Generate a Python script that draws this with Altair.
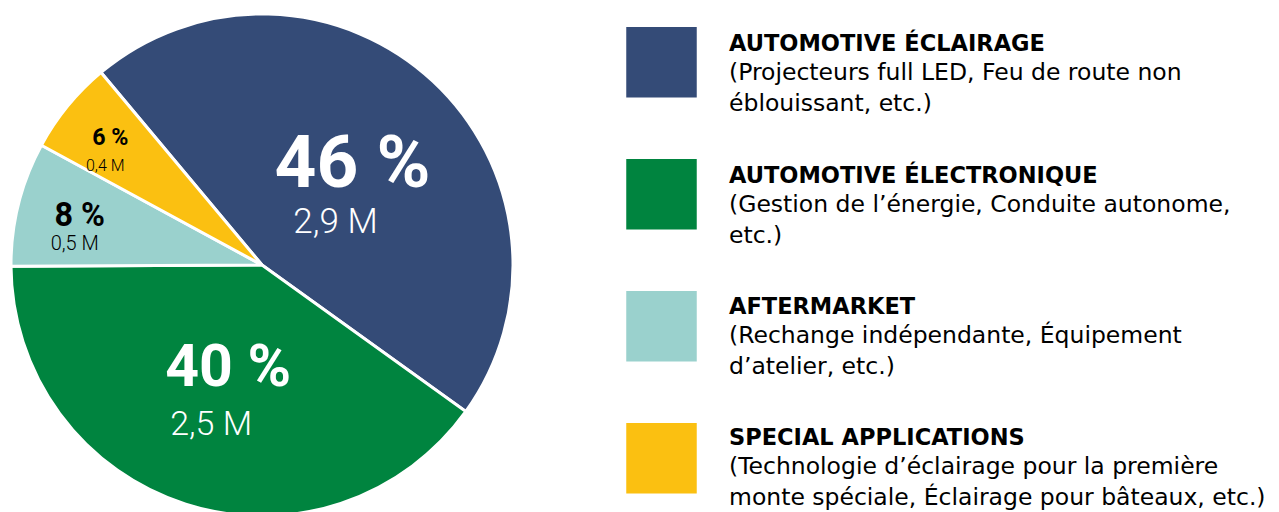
import altair as alt
import pandas as pd

# ---- data ----
categories = ["AUTOMOTIVE ÉCLAIRAGE", "AUTOMOTIVE ÉLECTRONIQUE", "AFTERMARKET", "SPECIAL APPLICATIONS"]
shares = [46, 40, 8, 6]
millions = [2.9, 2.5, 0.5, 0.4]
descriptions = [
    ["(Projecteurs full LED, Feu de route non", "éblouissant, etc.)"],
    ["(Gestion de l’énergie, Conduite autonome,", "etc.)"],
    ["(Rechange indépendante, Équipement", "d’atelier, etc.)"],
    ["(Technologie d’éclairage pour la première", "monte spéciale, Éclairage pour bâteaux, etc.)"],
]
colors = ["#344b77", "#00843f", "#9ad1cd", "#fbc011"]

df = pd.DataFrame({
    "cat": categories,
    "share": shares,
    "m": millions,
    "desc": ["\n".join(d) for d in descriptions],
    "idx": list(range(len(categories))),
})

# ---- styling ----
CX, CY = 254, 257
share_steps = [6, 8, 40, 46]
theta = alt.Theta("share:Q", stack=True,
                  scale=alt.Scale(domain=[0, 100], range=[5.5868, 11.8700]))
order = alt.Order("idx:Q")
color = alt.Color("cat:N", scale=alt.Scale(domain=categories, range=colors), legend=None)
radius = alt.Radius("share:Q", scale=alt.Scale(type="linear", zero=False, domain=share_steps,
                                                range=[196.1, 187.9, 111.3, 133.0]))
big = "datum.share >= 20"

base = alt.Chart(df).transform_calculate(
    pct="datum.share + ' %'",
    mlabel="replace(format(datum.m, '.1f'), '.', ',') + ' M'",
)

pie = base.mark_arc(outerRadius=251, stroke="white", strokeWidth=3).encode(
    theta=theta, order=order, color=color, x=alt.value(CX), y=alt.value(CY)
)

pct = base.mark_text(font="Roboto", fontWeight="bold", align="center",
                     baseline="middle", dy=-3).encode(
    theta=theta, order=order, radius=radius, detail="cat:N",
    text="pct:N",
    size=alt.Size("share:Q", scale=alt.Scale(type="linear", zero=False, domain=share_steps,
                                             range=[23.2, 32.4, 59, 73]), legend=None),
    color=alt.condition(big, alt.value("white"), alt.value("black")),
    x=alt.value(CX), y=alt.value(CY),
)

m_size = alt.Size("share:Q", scale=alt.Scale(type="linear", zero=False, domain=share_steps,
                                             range=[16, 20, 34, 35]), legend=None)

m_big = base.mark_text(font="Roboto", fontWeight=300, align="center", baseline="middle",
                       dx=-17, dy=54, color="white").encode(
    theta=theta, order=order, radius=radius, detail="cat:N",
    text="mlabel:N", size=m_size,
    opacity=alt.condition(big, alt.value(1), alt.value(0)),
    x=alt.value(CX), y=alt.value(CY),
)

m_small = base.mark_text(font="Roboto", fontWeight=300, align="center", baseline="middle",
                         dx=-5, dy=25, color="black").encode(
    theta=theta, order=order, radius=radius, detail="cat:N",
    text="mlabel:N", size=m_size,
    opacity=alt.condition(big, alt.value(0), alt.value(1)),
    x=alt.value(CX), y=alt.value(CY),
)

ys_square = alt.Y("cat:N", scale=alt.Scale(type="point", domain=categories, range=[54.2, 450.3],
                                           padding=0), axis=None)
ys_text = alt.Y("cat:N", scale=alt.Scale(type="point", domain=categories, range=[57.2, 451.3],
                                         padding=0), axis=None)

squares = base.mark_square(size=4970, opacity=1, filled=True).encode(
    x=alt.value(653.5), y=ys_square, color=color
)

titles = base.mark_text(align="left", baseline="alphabetic", font="DejaVu Sans",
                        fontWeight="bold", fontSize=22.5, dy=-14, color="black").encode(
    x=alt.value(721), y=ys_text, text="cat:N"
)

descs = base.mark_text(align="left", baseline="alphabetic", font="DejaVu Sans",
                       fontSize=23.5, lineBreak="\n", lineHeight=31, dy=15, color="black").encode(
    x=alt.value(721), y=ys_text, text="desc:N"
)

legend_text = alt.layer(titles, descs)

chart = alt.layer(pie, pct, m_big, m_small, squares, legend_text).resolve_scale(
    size="independent", y="independent"
).properties(
    width=1263, height=504, padding=0, autosize=alt.AutoSizeParams(type="none")
).configure_view(stroke=None)

chart.save("out.html", embed_options={"renderer": "svg", "actions": False})
